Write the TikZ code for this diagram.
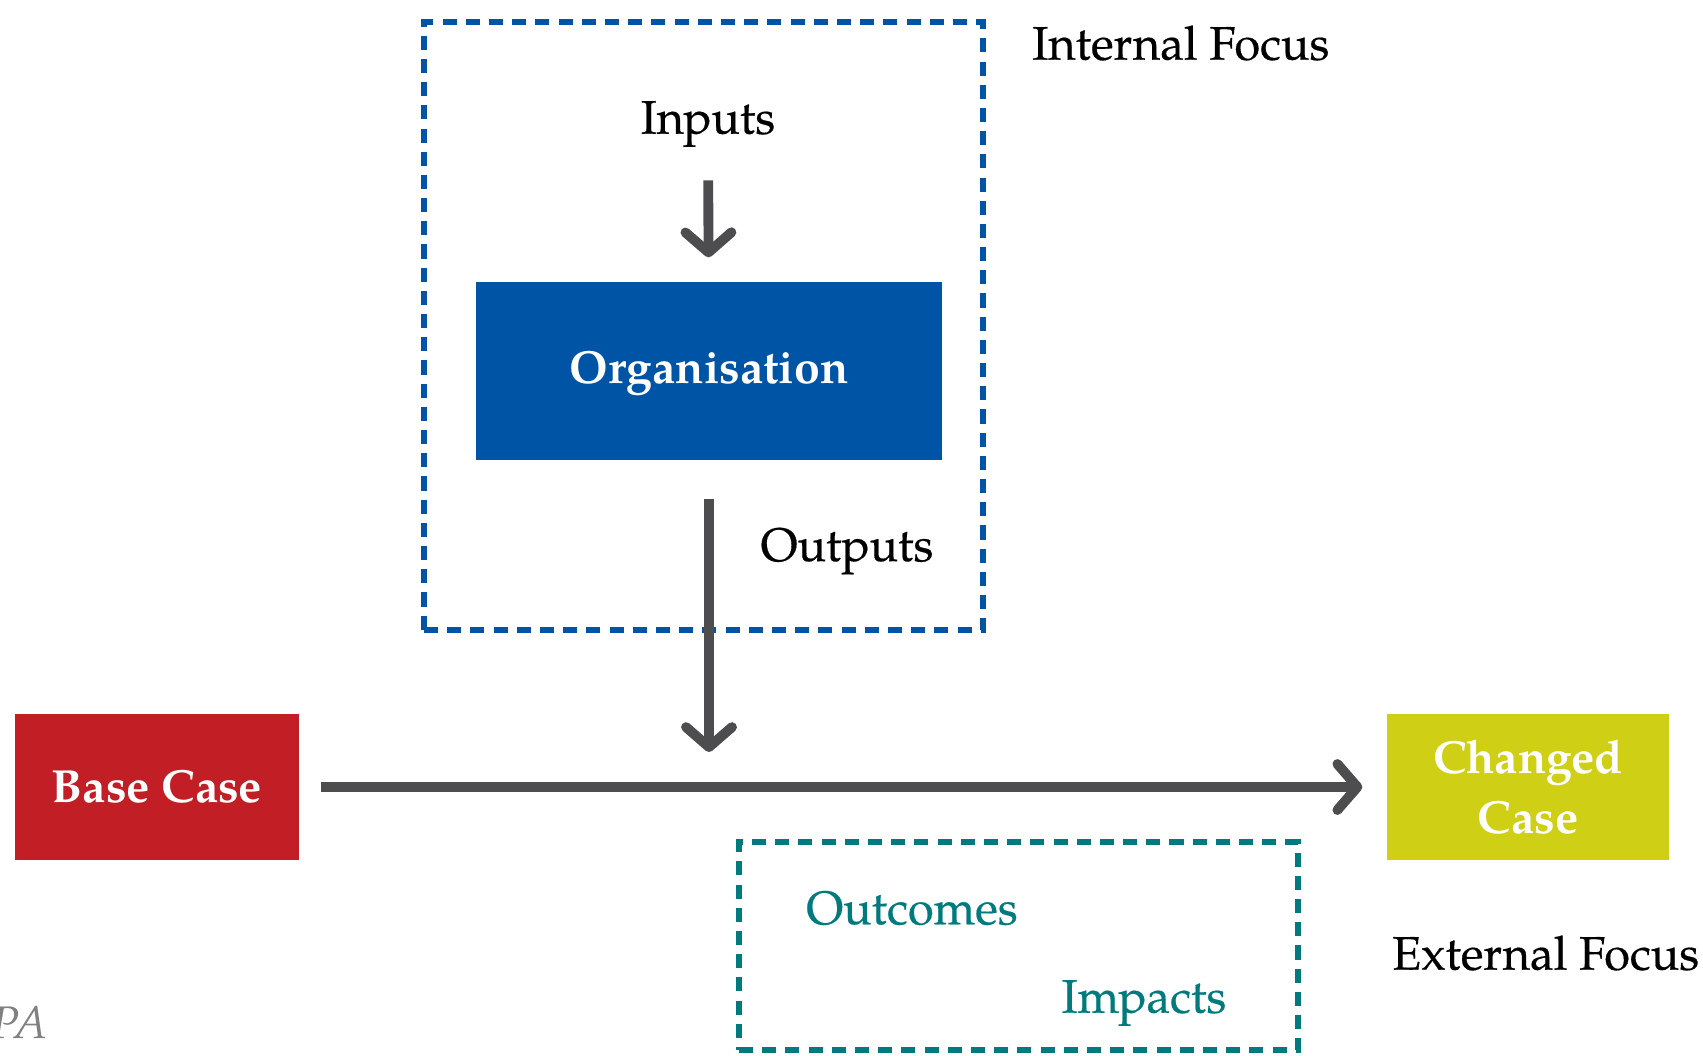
\documentclass[tikz,border=0pt]{standalone}
\usepackage{fontspec}
\setmainfont{TeX Gyre Pagella}
\usepackage{tikz}
\usetikzlibrary{arrows.meta}

\definecolor{orgblue}{RGB}{0,84,166}
\definecolor{basered}{RGB}{193,31,37}
\definecolor{changedyellow}{RGB}{207,207,22}
\definecolor{outteal}{RGB}{0,122,124}
\definecolor{arrowgrey}{RGB}{77,77,79}

\begin{document}
\begin{tikzpicture}[Label/.style={font=\fontsize{13.4}{16}\selectfont\addfontfeatures{FakeBold=0.4}},
CaseBox/.style={minimum height=1.46cm, minimum width=2.84cm, align=center, text=white, font=\fontsize{13.2}{17}\selectfont\bfseries},
FocusBox/.style={draw, line width=1.8pt, dash pattern=on 4pt off 2.6pt, minimum width=5.59cm},
Flow/.style={draw=arrowgrey, line width=2.8pt, -{Straight Barb[length=2mm, width=4.6mm, round]}}]

\useasboundingbox (0,0) rectangle (17.03,10.55);

\node[FocusBox, draw=orgblue, minimum height=6.08cm] (internal) at (7.035,7.29) {};
\node[FocusBox, draw=outteal, minimum height=2.08cm] (external) at (10.185,1.09) {};

\node[Label, anchor=west] (intlabel) at (10.2,10.12) {Internal Focus};
\node[Label, anchor=west] (extlabel) at (13.8,1.02) {External Focus};

\node[Label] (inputs) at (7.08,9.31) {Inputs};
\node[CaseBox, fill=orgblue, minimum width=4.66cm, minimum height=1.78cm, text depth=0.5ex] (org) at (7.09,6.84) {Organisation};
\node[Label] (outputs) at (8.47,5.04) {Outputs};

\node[CaseBox, fill=basered] (base) at (1.57,2.68) {Base Case};
\node[CaseBox, fill=changedyellow, minimum width=2.82cm] (changed) at (15.28,2.68) {Changed\\Case};

\node[Label, text=outteal] (outcomes) at (9.12,1.47) {Outcomes};
\node[Label, text=outteal] (impacts) at (11.44,0.52) {Impacts};

\node[font=\fontsize{13}{15}\selectfont\itshape, text=gray, anchor=east] (source) at (0.6,0.32) {VPA};

\draw[Flow, shorten <=0.21cm, shorten >=0.24cm] (inputs) -- (org);
\draw[Flow, shorten <=0.38cm, shorten >=0.35cm] (org.south) -- (org.south |- base.east);
\draw[Flow, shorten <=0.21cm, shorten >=0.24cm] (base) -- (changed);

\end{tikzpicture}
\end{document}
